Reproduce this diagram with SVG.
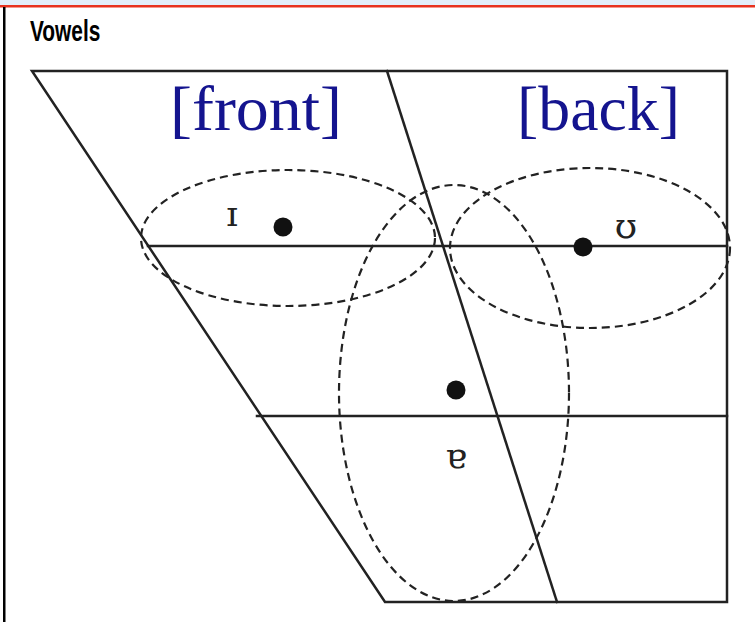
<svg xmlns="http://www.w3.org/2000/svg" width="755" height="622" viewBox="0 0 755 622">
<style>
.ln{stroke:#222;stroke-width:2.5;fill:none;stroke-linecap:square}
.el{stroke:#222;stroke-width:2.2;fill:none;stroke-dasharray:8 5}
.dot{fill:#111}
.ipa{font-family:"DejaVu Serif","Liberation Serif",serif;font-size:36px;fill:#222;text-anchor:middle}
.lab{font-family:"Liberation Serif","DejaVu Serif",serif;font-size:64px;fill:#14148f}
</style>
<rect x="0" y="0" width="755" height="622" fill="#fff"/>
<rect x="0" y="0" width="755" height="5" fill="#e3eef9"/>
<rect x="0" y="5" width="755" height="2.5" fill="#e8321e"/>
<rect x="3" y="7" width="2.5" height="615" fill="#000"/>
<text x="30" y="41" transform="translate(30 0) scale(0.72 1) translate(-30 0)" font-family="Liberation Sans, Arial, sans-serif" font-weight="bold" font-size="29" fill="#000">Vowels</text>
<g id="chart">
<polyline class="ln" points="727,71 32,71 385,602 727,602 727,71"/>
<line class="ln" x1="387" y1="71" x2="557" y2="602"/>
<line class="ln" x1="148" y1="246" x2="727" y2="246"/>
<line class="ln" x1="257" y1="416" x2="727" y2="416"/>
</g>
<g id="labels">
<text class="lab" x="170" y="130" textLength="172" lengthAdjust="spacingAndGlyphs">[front]</text>
<text class="lab" x="517" y="130" textLength="163" lengthAdjust="spacingAndGlyphs">[back]</text>
</g>
<g id="regions">
<ellipse id="front-region" class="el" cx="288" cy="238" rx="147" ry="68"/>
<ellipse id="back-region" class="el" cx="590" cy="248" rx="140" ry="80"/>
<ellipse id="low-region" class="el" cx="454" cy="393" rx="115" ry="208"/>
</g>
<g id="v-i"><circle class="dot" cx="283" cy="227" r="9.5"/><text class="ipa" x="232" y="226">ɪ</text></g>
<g id="v-u"><circle class="dot" cx="583" cy="247" r="9.5"/><text class="ipa" x="626" y="238">ʊ</text></g>
<g id="v-a"><circle class="dot" cx="456" cy="390" r="9.5"/><text class="ipa" x="456" y="468">ɐ</text></g>
</svg>
